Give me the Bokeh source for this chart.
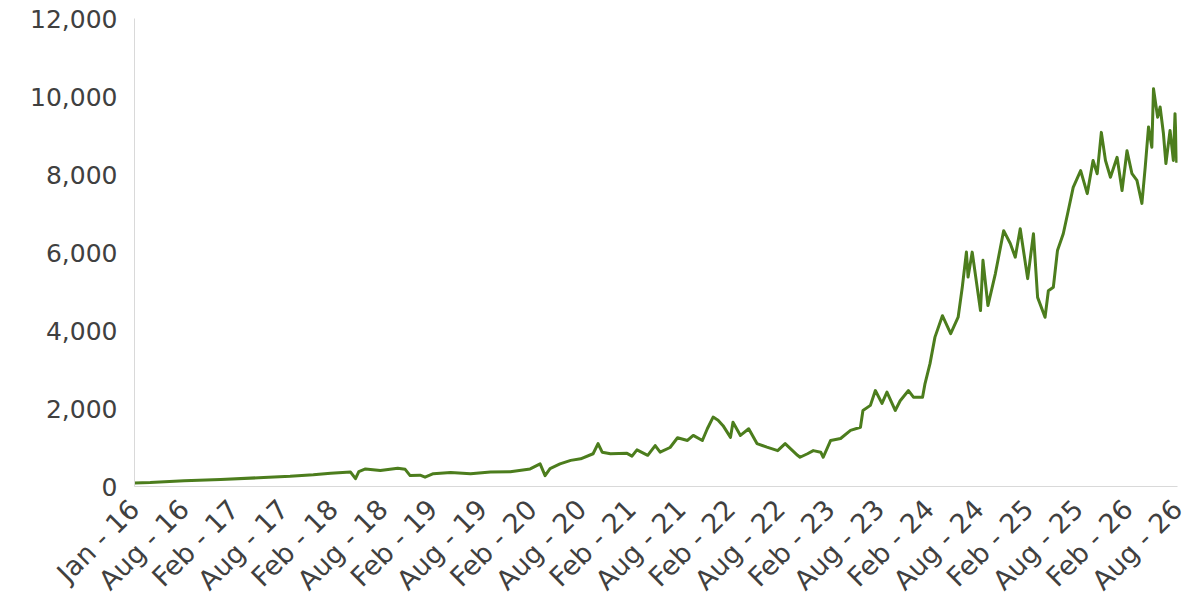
import numpy as np
from bokeh.plotting import figure
from bokeh.models import FixedTicker, Range1d, NumeralTickFormatter
from bokeh.embed import file_html
from bokeh.resources import INLINE

# months since Jan 2016
months = [0.0, 1.9, 6.0, 10.4, 15.6, 18.8, 21.6, 23.7, 26.1, 26.7, 27.1, 27.9, 29.7, 31.8,
          32.7, 33.3, 34.5, 35.1, 36.1, 38.2, 40.6, 43.0, 45.4, 47.8, 49.0, 49.6, 50.2,
          51.4, 52.7, 53.9, 55.4, 56.0, 56.5, 57.5, 59.5, 60.1, 60.7, 62.0, 62.9, 63.5,
          64.7, 65.6, 66.8, 67.5, 68.6, 69.2, 69.9, 70.5, 71.1, 72.0, 72.3, 73.2, 74.2,
          75.2, 76.4, 77.7,
          78.6, 80.1, 80.4, 81.3, 82.0, 82.9, 83.2, 84.1, 85.3, 86.5, 87.7, 88.0, 88.9, 89.5,
          90.3, 90.9, 91.9, 92.5, 93.5, 94.1, 95.2, 95.5, 96.1, 96.7, 97.6, 98.6, 99.5, 100.0,
          100.5, 100.7, 101.2, 102.2, 102.5, 103.1, 104.0, 105.0, 105.8, 106.4, 107.0, 107.9,
          108.6, 109.1, 110.0, 110.4, 111.0, 111.5, 112.2, 112.8, 113.4, 114.3, 115.1, 115.8,
          116.3, 116.8, 117.3, 117.9, 118.7, 119.3, 119.9, 120.5, 121.1, 121.7, 122.1, 122.5,
          122.9, 123.1, 123.6, 123.9, 124.3, 124.6, 125.1, 125.5, 125.7, 125.9]
prices = [90, 100, 150, 180, 230, 260, 300, 340, 370, 200, 380, 450, 410, 470,
          440, 280, 290, 240, 330, 360, 330, 370, 380, 450, 580, 280, 460,
          580, 670, 710, 840, 1100, 880, 840, 850, 780, 940, 800, 1050, 880,
          1000, 1250, 1180, 1310, 1180, 1480, 1780, 1700, 1560, 1260, 1650, 1310, 1480,
          1100, 1010, 920,
          1100, 800, 750, 840, 920, 880, 750, 1180, 1230, 1440, 1520, 1950, 2080, 2460,
          2130, 2420, 1950, 2200, 2460, 2290, 2290, 2640, 3150, 3830, 4380, 3920, 4340, 5110,
          6010, 5370, 6010, 4510, 5800, 4640, 5460, 6560, 6230, 5880, 6610, 5330,
          6480, 4850, 4340, 5020, 5110, 6050, 6480, 7070, 7670, 8100, 7510, 8360,
          8020, 9080, 8360, 7930, 8440, 7590, 8610, 8020, 7850, 7260, 8190, 9220,
          8700, 10200, 9470, 9730, 9050, 8280, 9130, 8360, 9560, 8300]

tick_months = list(range(0, 127, 6))
tick_labels = ["Jan - 16", "Aug - 16", "Feb - 17", "Aug - 17", "Feb - 18", "Aug - 18",
               "Feb - 19", "Aug - 19", "Feb - 20", "Aug - 20", "Feb - 21", "Aug - 21",
               "Feb - 22", "Aug - 22", "Feb - 23", "Aug - 23", "Feb - 24", "Aug - 24",
               "Feb - 25", "Aug - 25", "Feb - 26", "Aug - 26"]
y_ticks = [0, 2000, 4000, 6000, 8000, 10000, 12000]

p = figure(frame_width=1043, frame_height=468, output_backend="svg", toolbar_location=None,
           x_range=Range1d(0, 126), y_range=Range1d(0, 12000))
p.min_border_left = 134
p.min_border_right = 23
p.min_border_top = 18
p.min_border_bottom = 114
p.outline_line_color = None
p.xgrid.visible = False
p.ygrid.visible = False

p.line(months, prices, line_color="#4C7D1D", line_width=3, line_join="round")

TEXT = "#404040"
for ax in (p.xaxis[0], p.yaxis[0]):
    ax.axis_line_color = "#D9D9D9"
    ax.axis_line_width = 1
    ax.major_tick_line_color = None
    ax.minor_tick_line_color = None
    ax.major_label_text_font = "DejaVu Sans"
    ax.major_label_text_color = TEXT

p.yaxis[0].ticker = FixedTicker(ticks=y_ticks)
p.yaxis[0].formatter = NumeralTickFormatter(format="0,0")
p.yaxis[0].major_label_standoff = 11
p.yaxis[0].major_label_text_font_size = "25px"

p.xaxis[0].ticker = FixedTicker(ticks=tick_months)
p.xaxis[0].major_label_overrides = {m: lab for m, lab in zip(tick_months, tick_labels)}
p.xaxis[0].major_label_orientation = np.pi / 4
p.xaxis[0].major_label_standoff = 12
p.xaxis[0].major_label_text_font_size = "27px"

open("out.html", "w").write(file_html(p, INLINE))
